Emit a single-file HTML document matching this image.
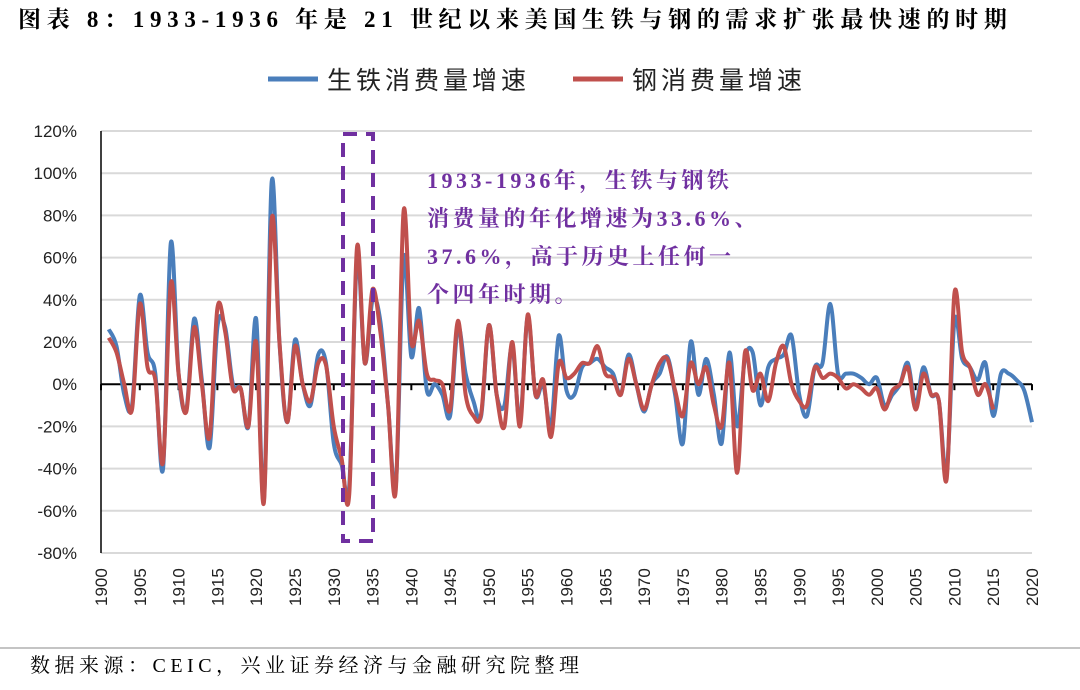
<!DOCTYPE html>
<html><head><meta charset="utf-8"><style>
body{margin:0;background:#fff;width:1080px;height:685px;overflow:hidden;font-family:"Liberation Serif","Noto Serif CJK SC",serif;}
</style></head><body>
<svg id="c" width="1080" height="685" xmlns="http://www.w3.org/2000/svg">
<text x="18" y="27" font-size="23" letter-spacing="5.7" font-weight="bold" font-family="'Liberation Serif','Noto Serif CJK SC',serif" fill="#000">图表 8：1933-1936 年是 21 世纪以来美国生铁与钢的需求扩张最快速的时期</text>
<g>
<line x1="268" y1="79" x2="318" y2="79" stroke="#4a7ebb" stroke-width="5"/>
<text x="327" y="89" font-size="25" letter-spacing="4" font-family="'Liberation Sans','Noto Sans CJK SC',sans-serif" fill="#222">生铁消费量增速</text>
<line x1="573" y1="79" x2="623" y2="79" stroke="#c0504d" stroke-width="5"/>
<text x="632" y="89" font-size="25" letter-spacing="4" font-family="'Liberation Sans','Noto Sans CJK SC',sans-serif" fill="#222">钢消费量增速</text>
</g>
<g id="grid"></g><g id="axes"></g><g id="series"></g>
<rect x="343" y="134" width="30" height="407" fill="none" stroke="#7030a0" stroke-width="4" stroke-dasharray="14,9"/>
<g font-size="22" letter-spacing="3.5" font-weight="bold" fill="#7030a0" font-family="'Liberation Serif','Noto Serif CJK SC',serif">
<text x="427" y="188">1933-1936年，生铁与钢铁</text>
<text x="427" y="226">消费量的年化增速为33.6%、</text>
<text x="427" y="264">37.6%，高于历史上任何一</text>
<text x="427" y="302">个四年时期。</text>
</g>
<line x1="0" y1="648" x2="1080" y2="648" stroke="#888" stroke-width="1"/>
<text x="30" y="672" font-size="20" letter-spacing="4.5" font-family="'Liberation Serif','Noto Serif CJK SC',serif" fill="#000">数据来源：CEIC，兴业证券经济与金融研究院整理</text>
</svg>
<script>
const yTicks=[120,100,80,60,40,20,0,-20,-40,-60,-80];
const xTickYears=[1900,1905,1910,1915,1920,1925,1930,1935,1940,1945,1950,1955,1960,1965,1970,1975,1980,1985,1990,1995,2000,2005,2010,2015,2020];
const ironStart=1901;
const ironValues=[26,18,-5,-10,42,15,5,-40,67,5,-12,31,2,-30,27,27,0,-2,-20,31,-55,96,20,-18,21,0,-10,14,10,-28,-38,-48,60,10,40,30,-10,-48,60,13,36,-3,0,-5,-15,27,5,-8,-15,28,-5,-10,18,-18,32,-5,0,-20,23,-3,-5,8,10,12,8,5,-5,14,0,-13,0,5,13,-5,-28,20,-5,12,-5,-28,15,-20,12,15,-10,8,12,14,23,-5,-15,8,10,38,5,5,5,3,0,3,-10,-5,0,10,-10,8,-5,-8,-42,30,12,8,2,10,-15,5,5,2,-3,-18];
const steelStart=1901;
const steelValues=[22,15,0,-12,38,8,2,-37,48,5,-13,27,0,-25,36,25,-2,-2,-20,20,-56,78,20,-18,18,0,-8,10,9,-20,-35,-52,65,10,45,25,-10,-50,82,20,30,5,2,0,-12,30,-5,-15,-14,28,-5,-20,20,-20,33,-5,2,-25,10,3,5,10,10,18,5,3,-5,12,0,-12,0,10,12,-3,-15,10,0,8,-10,-20,10,-42,15,-3,5,-8,10,18,0,-8,-10,8,3,5,3,-2,0,-2,-5,-2,-12,-3,0,8,-12,5,-5,-8,-45,43,15,8,-5,0,-12];
const NS="http://www.w3.org/2000/svg";
const X0=101,X1=1032,Y0=131,Y1=553;
const xs=yr=>X0+(yr-1900)*(X1-X0)/120;
const ys=v=>Y0+(120-v)*(Y1-Y0)/200;
function mk(t,a,p){const e=document.createElementNS(NS,t);for(const k in a)e.setAttribute(k,a[k]);p.appendChild(e);return e;}
const grid=document.getElementById('grid'),axes=document.getElementById('axes'),ser=document.getElementById('series');
yTicks.forEach(v=>{
 if(v!==0){const l=mk('line',{x1:X0,x2:X1,y1:ys(v),y2:ys(v),stroke:'#d9d9d9','stroke-width':2},grid);
 
 }
 const t=mk('text',{x:77,y:ys(v)+6,'text-anchor':'end','font-size':17,'font-family':'Liberation Sans, sans-serif',fill:'#222'},axes);
 t.textContent=v+'%';
 
 
});
const ya=mk('line',{x1:X0,x2:X0,y1:Y0,y2:Y1,stroke:'#000','stroke-width':1.5},axes);


const xa=mk('line',{x1:X0,x2:X1,y1:ys(0),y2:ys(0),stroke:'#000','stroke-width':2},axes);


xTickYears.forEach(yr=>{
 const x=xs(yr);
 const tk=mk('line',{x1:x,x2:x,y1:ys(0),y2:ys(0)+6,stroke:'#000','stroke-width':2},axes);
 
 
 const t=mk('text',{x:0,y:0,transform:`translate(${x+6},606) rotate(-90)`,'text-anchor':'start','font-size':17,'font-family':'Liberation Sans, sans-serif',fill:'#222'},axes);
 t.textContent=yr;
 
 
});
function smooth(pts){let d=`M${pts[0][0]},${pts[0][1]}`;for(let i=0;i<pts.length-1;i++){const p0=pts[i-1]||pts[i],p1=pts[i],p2=pts[i+1],p3=pts[i+2]||p2;
 d+=` C${p1[0]+(p2[0]-p0[0])/6},${p1[1]+(p2[1]-p0[1])/6} ${p2[0]-(p3[0]-p1[0])/6},${p2[1]-(p3[1]-p1[1])/6} ${p2[0]},${p2[1]}`;}return d;}
const ip=mk('path',{d:smooth(ironValues.map((v,i)=>[xs(ironStart+i),ys(v)])),fill:'none',stroke:'#4a7ebb','stroke-width':4,'stroke-linejoin':'round'},ser);


const sp=mk('path',{d:smooth(steelValues.map((v,i)=>[xs(steelStart+i),ys(v)])),fill:'none',stroke:'#c0504d','stroke-width':4,'stroke-linejoin':'round'},ser);


</script>
</body></html>
